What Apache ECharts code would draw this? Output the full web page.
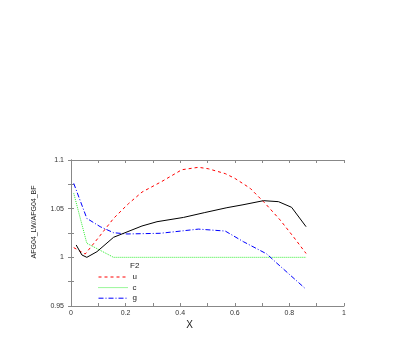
<!DOCTYPE html>
<html><head><meta charset="utf-8">
<script src="https://cdn.jsdelivr.net/npm/echarts@6/dist/echarts.min.js"></script>
<style>html,body{margin:0;padding:0;background:#fff}#c{width:415px;height:346px}</style>
</head><body><div id="c"></div>
<script>
const xTicks = [0, 0.2, 0.4, 0.6, 0.8, 1];
const yTicks = [0.95, 1, 1.05, 1.1];
const uData = [[0.01,1.010],[0.052,1.0034],[0.10,1.020],[0.156,1.040],[0.21,1.055],[0.26,1.067],[0.333,1.078],[0.406,1.090],[0.467,1.0925],[0.503,1.091],[0.565,1.086],[0.601,1.081],[0.656,1.071],[0.711,1.0555],[0.766,1.0384],[0.815,1.021],[0.861,1.004]];
const cData = [[0.01,1.0658],[0.058,1.0144],[0.156,1.0],[0.30,1.0],[0.50,1.0],[0.70,1.0],[0.861,1.0]];
const gData = [[0.01,1.076],[0.058,1.040],[0.107,1.0315],[0.156,1.0253],[0.205,1.024],[0.327,1.0247],[0.467,1.029],[0.565,1.027],[0.632,1.016],[0.717,1.0035],[0.754,0.994],[0.857,0.9682]];
const bData = [[0.019,1.0127],[0.04,1.0024],[0.058,1.0],[0.095,1.0058],[0.156,1.0206],[0.26,1.0322],[0.315,1.0366],[0.412,1.041],[0.49,1.046],[0.571,1.051],[0.63,1.054],[0.705,1.0582],[0.76,1.0572],[0.808,1.0514],[0.861,1.0315]];
const seriesNames = ['u','c','g'];

const chart = echarts.init(document.getElementById('c'));
const font = 'Liberation Sans, Arial, sans-serif';
const axisCol = '#888';
const labelCol = '#333';
function xAx(pos, show) {
  return {
    type:'value', position:pos, min:0, max:1, interval:0.2,
    axisLine:{show:true, lineStyle:{color:axisCol, width:1}},
    axisTick:{show:true, inside:true, length:3, lineStyle:{color:axisCol}},
    minorTick:{show:true, splitNumber:2, length:3, lineStyle:{color:axisCol}},
    splitLine:{show:false},
    axisLabel:{show:show, fontSize:7, color:labelCol, fontFamily:font, margin:4,
      formatter: v => xTicks.includes(Math.round(v*10)/10) ? String(Math.round(v*10)/10) : ''},
    name: show ? 'X' : '', nameLocation:'middle', nameGap:14,
    nameTextStyle:{fontSize:10, color:'#222', fontFamily:font, padding:[0,36,0,0]}
  };
}
function yAx(pos, show) {
  return {
    type:'value', position:pos, min:0.95, max:1.1, interval:0.05,
    axisLine:{show:true, lineStyle:{color:axisCol, width:1}},
    axisTick:{show:true, inside:true, length:3, lineStyle:{color:axisCol}},
    minorTick:{show:true, splitNumber:2, length:3, lineStyle:{color:axisCol}},
    splitLine:{show:false},
    axisLabel:{show:show, fontSize:7, color:labelCol, fontFamily:font, margin:7,
      formatter: v => { const r = Math.round(v*100)/100; return yTicks.includes(r) ? String(r) : ''; }},
    name: show ? 'AFG04_LW/AFG04_BF' : '', nameLocation:'middle', nameGap:33,
    nameTextStyle:{fontSize:7, color:'#222', fontFamily:font, padding:[0,0,0,22]}
  };
}
chart.setOption({
  backgroundColor:'#fff',
  animation:false,
  grid:{left:71, right:71, top:160, bottom:40},
  xAxis:[xAx('bottom', true), xAx('top', false)],
  yAxis:[yAx('left', true), yAx('right', false)],
  legend:{
    orient:'vertical', left:93, top:268, itemWidth:29, itemHeight:8, itemGap:2.6,
    data:seriesNames, textStyle:{fontSize:8, color:'#222', fontFamily:font},
    selectedMode:false, itemStyle:{opacity:0}, lineStyle:{width:1}
  },
  graphic:[{type:'text', left:130, top:262, style:{text:'F2', fontSize:8, fill:'#222', fontFamily:font}}],
  series:[
    {name:'u', type:'line', data:uData, showSymbol:false, symbol:'none', lineStyle:{color:'#ff0000', width:1, type:[3,3]}, itemStyle:{color:'#ff0000'}},
    {name:'c', type:'line', data:cData, showSymbol:false, symbol:'none', lineStyle:{color:'#33ee33', width:1, type:[1,1]}, itemStyle:{color:'#33ee33'}},
    {name:'g', type:'line', data:gData, showSymbol:false, symbol:'none', lineStyle:{color:'#0000ff', width:1, type:[5,2,1,2]}, itemStyle:{color:'#0000ff'}},
    {name:'black', type:'line', data:bData, showSymbol:false, symbol:'none', lineStyle:{color:'#000', width:1}, itemStyle:{color:'#000'}}
  ]
});
</script></body></html>
